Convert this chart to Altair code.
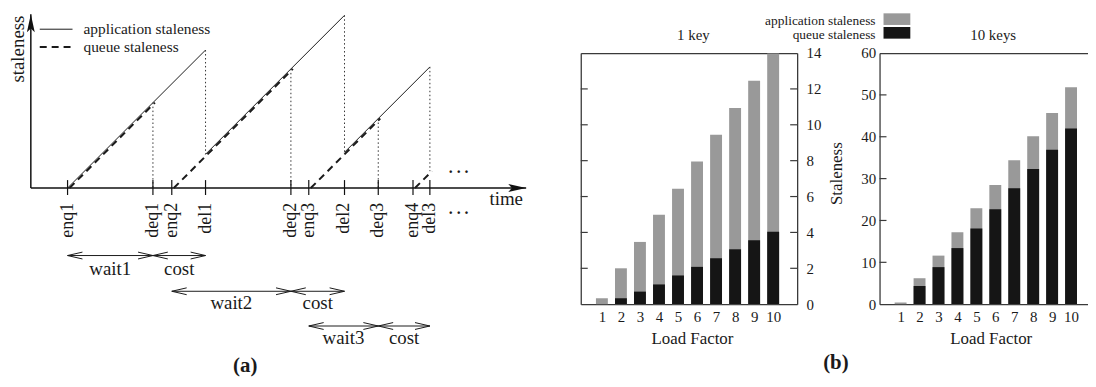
import altair as alt
import pandas as pd

FONT = "Liberation Serif"
INK = "#1a1a1a"
GRAY = "#999999"
BLACK = "#151515"
FRAME = "#3a3a3a"
W, H = 1088, 370

# ---------------- panel (a): schematic (time / staleness units) ----------------
EVENT_LABELS = ["enq1", "deq1", "enq2", "del1", "deq2", "enq3", "del2", "deq3", "enq4", "del3"]
EVENT_TIMES = [3.7, 12.3, 14.2, 17.6, 26.2, 28.0, 31.6, 35.0, 38.5, 40.2]

APP_T0 = [3.7, 17.6, 31.6]
APP_S0 = [0.0, 3.4, 3.6]
APP_T1 = [17.6, 31.6, 40.2]
APP_S1 = [13.9, 17.4, 12.2]

QUEUE_T0 = [3.7, 14.2, 28.0, 38.5]
QUEUE_S0 = [0.0, 0.0, 0.0, 0.0]
QUEUE_T1 = [12.3, 26.2, 35.0, 40.2]
QUEUE_S1 = [8.6, 12.0, 7.0, 1.7]

DROP_T = [12.3, 17.6, 26.2, 31.6, 35.0, 40.2]
DROP_TOP = [8.6, 13.9, 12.0, 17.4, 7.0, 12.2]
DROP_BOTTOM = [0.0, 3.4, 0.0, 3.6, 0.0, 1.7]

SPAN_START = [3.7, 12.3, 14.2, 26.2, 28.0, 35.0]
SPAN_END = [12.3, 17.6, 26.2, 31.6, 35.0, 40.2]
SPAN_LABEL = ["wait1", "cost", "wait2", "cost", "wait3", "cost"]
SPAN_ROW = [-6.8, -6.8, -10.4, -10.4, -13.9, -13.9]
SPAN_TEXT = [-8.2, -8.2, -11.6, -11.6, -15.1, -15.1]

LEGEND_A = ["application staleness", "queue staleness"]
LEGEND_A_S = [16.0, 14.2]

AXIS_T_END = 49.9
AXIS_S_END = 17.5

# ---------------- panel (b): bar charts ----------------
LOAD = [1, 2, 3, 4, 5, 6, 7, 8, 9, 10]
KEY1_APP = [0.33, 2.0, 3.47, 4.98, 6.44, 7.95, 9.44, 10.94, 12.45, 13.98]
KEY1_QUEUE = [0.0, 0.33, 0.7, 1.1, 1.6, 2.08, 2.56, 3.06, 3.56, 4.04]
KEY10_APP = [0.4, 6.2, 11.6, 17.2, 22.9, 28.5, 34.4, 40.1, 45.7, 51.8]
KEY10_QUEUE = [0.0, 4.35, 8.85, 13.4, 18.1, 22.7, 27.7, 32.3, 36.9, 42.0]
KEY1_TICKS = [0, 2, 4, 6, 8, 10, 12, 14]
KEY1_INNER = [2, 4, 6, 8, 10, 12]
KEY10_TICKS = [0, 10, 20, 30, 40, 50, 60]
KEY10_INNER = [10, 20, 30, 40, 50]
LEGEND_B = ["application staleness", "queue staleness"]
CAPTIONS = ["(a)", "(b)"]

# ---------------- scales (pixel ranges place each panel) ----------------
A_X = ([0, 50], [23, 523])
A_Y = ([0, 18], [180, 0])
B1_X = ([0.15, 11.0], [577, 795])
B1_Y = ([0, 14], [297, 44])
B2_X = ([0.15, 11.0], [878, 1095])
B2_Y = ([0, 60], [297, 44])


def sc(s):
    return alt.Scale(domain=s[0], range=s[1], nice=False, zero=False)


def X(f, s, axis=None):
    return alt.X(f, type="quantitative", scale=sc(s), axis=axis)


def Y(f, s, axis=None):
    return alt.Y(f, type="quantitative", scale=sc(s), axis=axis)


def XD(v, s, axis=None):
    return alt.XDatum(v, type="quantitative", scale=sc(s), axis=axis)


def YD(v, s, axis=None):
    return alt.YDatum(v, type="quantitative", scale=sc(s), axis=axis)


HEAD_RIGHT = "M0,0 L-1,-0.22 L-0.8,0 L-1,0.22 Z"
HEAD_UP = "M0,0 L-0.22,1 L0,0.8 L0.22,1 Z"
CHEV_RIGHT = "M-1,-0.23 L0,0 L-1,0.23"
CHEV_LEFT = "M1,-0.23 L0,0 L1,0.23"

layers = []

# axes arrows
df_ax = pd.DataFrame({"t0": [0, 0], "s0": [0, 0], "t1": [AXIS_T_END, 0], "s1": [0, AXIS_S_END]})
layers.append(alt.Chart(df_ax).mark_rule(color="#111111", strokeWidth=1.5).encode(
    x=X("t0", A_X), y=Y("s0", A_Y), x2="t1", y2="s1"))
layers.append(alt.Chart(pd.DataFrame({"t": [AXIS_T_END], "s": [0]})).mark_point(
    shape=HEAD_RIGHT, size=1296, filled=True, color="#111111", opacity=1, strokeWidth=0).encode(
    x=X("t", A_X), y=Y("s", A_Y)))
layers.append(alt.Chart(pd.DataFrame({"t": [0], "s": [AXIS_S_END]})).mark_point(
    shape=HEAD_UP, size=1296, filled=True, color="#111111", opacity=1, strokeWidth=0).encode(
    x=X("t", A_X), y=Y("s", A_Y)))

# staleness lines
df_app = pd.DataFrame({"t0": APP_T0, "s0": APP_S0, "t1": APP_T1, "s1": APP_S1})
layers.append(alt.Chart(df_app).mark_rule(color=INK, strokeWidth=1).encode(
    x=X("t0", A_X), y=Y("s0", A_Y), x2="t1", y2="s1"))
df_q = pd.DataFrame({"t0": QUEUE_T0, "s0": QUEUE_S0, "t1": QUEUE_T1, "s1": QUEUE_S1})
layers.append(alt.Chart(df_q).mark_rule(color=INK, strokeWidth=2, strokeDash=[7, 5],
                                        xOffset=2, x2Offset=2).encode(
    x=X("t0", A_X), y=Y("s0", A_Y), x2="t1", y2="s1"))
df_drop = pd.DataFrame({"t": DROP_T, "top": DROP_TOP, "bottom": DROP_BOTTOM})
layers.append(alt.Chart(df_drop).mark_rule(color="#333333", strokeWidth=1, strokeDash=[1.5, 2.5]).encode(
    x=X("t", A_X), y=Y("top", A_Y), y2="bottom"))

# event ticks and labels
df_ev = pd.DataFrame({"t": EVENT_TIMES, "label": EVENT_LABELS})
layers.append(alt.Chart(df_ev).mark_rule(color="#111111", strokeWidth=1.2).encode(
    x=X("t", A_X), y=YD(-0.7, A_Y), y2=alt.Y2Datum(0.8)))
layers.append(alt.Chart(df_ev).mark_text(angle=270, align="right", baseline="middle",
                                         fontSize=18, color=INK).encode(
    x=X("t", A_X), y=YD(-1.5, A_Y), text="label:N"))

# wait / cost spans
df_sp = pd.DataFrame({"start": SPAN_START, "end": SPAN_END, "label": SPAN_LABEL,
                      "row": SPAN_ROW, "txt": SPAN_TEXT})
layers.append(alt.Chart(df_sp).mark_rule(color=INK, strokeWidth=1).encode(
    x=X("start", A_X), x2="end", y=Y("row", A_Y)))
layers.append(alt.Chart(df_sp).mark_point(shape=CHEV_LEFT, size=900, filled=False, color=INK,
                                          opacity=1, strokeWidth=1).encode(
    x=X("start", A_X), y=Y("row", A_Y)))
layers.append(alt.Chart(df_sp).mark_point(shape=CHEV_RIGHT, size=900, filled=False, color=INK,
                                          opacity=1, strokeWidth=1).encode(
    x=X("end", A_X), y=Y("row", A_Y)))
layers.append(alt.Chart(df_sp).transform_calculate(mid="(datum.start + datum.end) / 2").mark_text(
    align="center", baseline="middle", fontSize=19, color=INK).encode(
    x=X("mid", A_X), y=Y("txt", A_Y), text="label:N"))

# legend of panel (a)
df_la = pd.DataFrame({"label": LEGEND_A, "s": LEGEND_A_S})
layers.append(alt.Chart(df_la.iloc[[0]]).mark_rule(color=INK, strokeWidth=1).encode(
    x=XD(0.9, A_X), x2=alt.X2Datum(4.2), y=Y("s", A_Y)))
layers.append(alt.Chart(df_la.iloc[[1]]).mark_rule(color=INK, strokeWidth=2, strokeDash=[7, 5]).encode(
    x=XD(0.9, A_X), x2=alt.X2Datum(4.2), y=Y("s", A_Y)))
layers.append(alt.Chart(df_la).mark_text(align="left", baseline="middle", fontSize=15.5, color=INK).encode(
    x=XD(5.3, A_X), y=Y("s", A_Y), text="label:N"))

# axis words and ellipses
layers.append(alt.Chart(pd.DataFrame({"w": ["staleness"]})).mark_text(
    angle=270, align="center", baseline="middle", fontSize=19, color=INK).encode(
    x=XD(-1.3, A_X), y=YD(14.0, A_Y), text="w:N"))
layers.append(alt.Chart(pd.DataFrame({"w": ["time"]})).mark_text(
    align="left", baseline="middle", fontSize=19, color=INK).encode(
    x=XD(46.2, A_X), y=YD(-1.1, A_Y), text="w:N"))
layers.append(alt.Chart(pd.DataFrame({"w": [". . .", ". . ."], "s": [1.55, -2.65]})).mark_text(
    align="center", baseline="alphabetic", fontSize=16, fontWeight="bold", color=INK).encode(
    x=XD(43.1, A_X), y=Y("s", A_Y), text="w:N"))


# ---------------- panel (b) ----------------
def bottom_axis(tx):
    return alt.Axis(orient="bottom", offset=297 - H, values=LOAD, ticks=False, labelPadding=5,
                    labelBaseline="top", labelFontSize=15, labelFlush=False, labelOverlap=False,
                    domainColor=FRAME, domainWidth=1.3, grid=False, format="d",
                    title="Load Factor", titleFontSize=17, titleFontWeight="normal",
                    titleX=tx, titleY=35, titleBaseline="middle", titleAlign="center")


def top_axis(title, tx):
    return alt.Axis(orient="top", offset=-44, labels=False, ticks=False, domainColor=FRAME,
                    domainWidth=1.3, grid=False, title=title, titleFontSize=15,
                    titleFontWeight="normal", titleX=tx, titleY=-19, titleBaseline="middle",
                    titleAlign="center")


df_b1 = pd.DataFrame({"load": LOAD, "app": KEY1_APP, "queue": KEY1_QUEUE})
df_b2 = pd.DataFrame({"load": LOAD, "app": KEY10_APP, "queue": KEY10_QUEUE})

# left bar panel: 1 key
layers.append(alt.Chart(df_b1).mark_bar(size=12, color=GRAY).encode(
    x=X("load", B1_X, axis=bottom_axis(689)),
    y=Y("app", B1_Y, axis=alt.Axis(orient="right", offset=795 - W, values=KEY1_TICKS, ticks=False,
                                   labelPadding=9, labelFontSize=15, labelFlush=False,
                                   labelOverlap=False, domainColor=FRAME, domainWidth=1.3,
                                   grid=False, title=None))))
layers.append(alt.Chart(df_b1).mark_bar(size=12, color=BLACK).encode(
    x=X("load", B1_X), y=Y("queue", B1_Y)))
df_t1 = pd.DataFrame({"tick": KEY1_INNER})
layers.append(alt.Chart(df_t1).mark_rule(color=FRAME, strokeWidth=1.2).encode(
    x=XD(0.15, B1_X, axis=top_axis("1 key", 690)), x2=alt.X2Datum(0.5),
    y=Y("tick", B1_Y, axis=alt.Axis(orient="left", offset=-577, labels=False, ticks=False,
                                    domainColor=FRAME, domainWidth=1.3, grid=False, title=None))))
layers.append(alt.Chart(df_t1).mark_rule(color=FRAME, strokeWidth=1.2).encode(
    x=XD(10.65, B1_X), x2=alt.X2Datum(11.0), y=Y("tick", B1_Y)))

# right bar panel: 10 keys
layers.append(alt.Chart(df_b2).mark_bar(size=12, color=GRAY).encode(
    x=X("load", B2_X, axis=bottom_axis(990)),
    y=Y("app", B2_Y, axis=alt.Axis(orient="left", offset=-878, values=KEY10_TICKS, ticks=False,
                                   labelPadding=4, labelFontSize=15, labelFlush=False,
                                   labelOverlap=False, domainColor=FRAME, domainWidth=1.3,
                                   grid=False, title="Staleness", titleFontSize=17,
                                   titleFontWeight="normal", titleAngle=270, titleX=-43,
                                   titleY=165, titleBaseline="middle", titleAlign="center"))))
layers.append(alt.Chart(df_b2).mark_bar(size=12, color=BLACK).encode(
    x=X("load", B2_X), y=Y("queue", B2_Y)))
df_t2 = pd.DataFrame({"tick": KEY10_INNER})
layers.append(alt.Chart(df_t2).mark_rule(color=FRAME, strokeWidth=1.2).encode(
    x=XD(0.15, B2_X, axis=top_axis("10 keys", 992)), x2=alt.X2Datum(0.5),
    y=Y("tick", B2_Y)))

# legend of panel (b)
df_lb = pd.DataFrame({"label": LEGEND_B})
layers.append(alt.Chart(df_lb).mark_text(align="right", baseline="middle", fontSize=13.5, color=INK).encode(
    x=alt.value(874),
    y=alt.Y("label:N", scale=alt.Scale(type="point", domain=LEGEND_B, range=[12, 25.5], padding=0), axis=None),
    text="label:N"))
layers.append(alt.Chart(df_lb).mark_rect().encode(
    x=alt.value(882), x2=alt.value(909),
    y=alt.Y("label:N", scale=alt.Scale(type="band", domain=LEGEND_B, range=[4, 29.5],
                                       paddingInner=0.15, paddingOuter=0), axis=None),
    color=alt.Color("label:N", scale=alt.Scale(domain=LEGEND_B, range=[GRAY, BLACK]), legend=None)))

# captions
for cap, cx, cy in zip(CAPTIONS, [239, 834], [359, 356]):
    layers.append(alt.Chart(pd.DataFrame({"c": [cap]})).mark_text(
        align="center", baseline="middle", fontSize=21, fontWeight="bold", color=INK).encode(
        x=alt.value(cx), y=alt.value(cy), text="c:N"))

chart = alt.layer(*layers).resolve_scale(x="independent", y="independent").properties(
    width=W, height=H, autosize=alt.AutoSizeParams(type="none"), padding=0
).configure(font=FONT).configure_view(stroke=None).configure_axis(
    labelFont=FONT, titleFont=FONT, labelColor=INK, titleColor=INK)

chart.save("out.html", embed_options={"renderer": "svg", "actions": False})
